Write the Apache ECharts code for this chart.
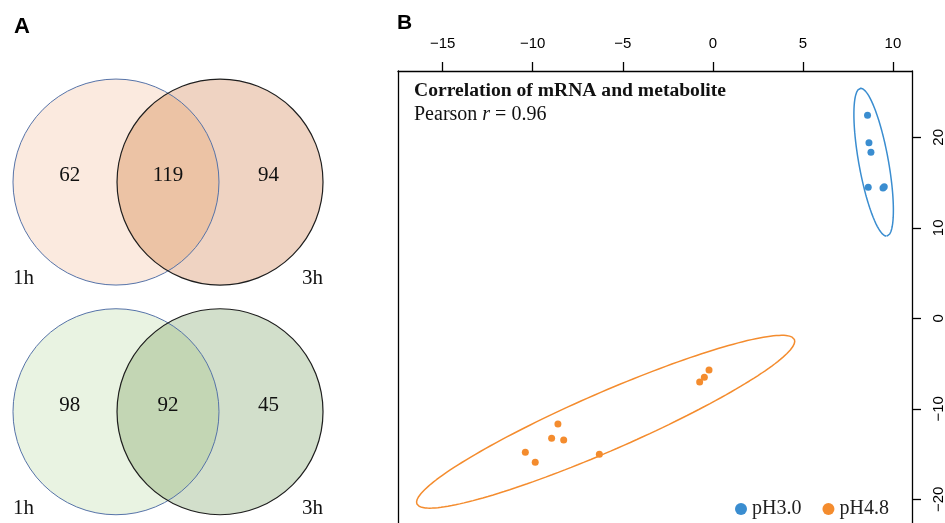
<!DOCTYPE html>
<html><head><meta charset="utf-8">
<script src="https://cdn.jsdelivr.net/npm/echarts@6/dist/echarts.min.js"></script>
<style>html,body{margin:0;padding:0;background:#fff}#c{width:945px;height:523px}</style>
</head><body><div id="c"></div>
<script>
// ---------- data ----------
const vennSetNames = ['1h', '3h'];
const vennCountsTop = [62, 119, 94];     // only 1h, shared, only 3h
const vennCountsBottom = [98, 92, 45];

const xTicks = [-15, -10, -5, 0, 5, 10];
const yTicks = [-20, -10, 0, 10, 20];

const groupNames = ['pH3.0', 'pH4.8'];
const pH30x = [8.59, 8.67, 8.78, 8.63, 9.45, 9.52];
const pH30y = [22.43, 19.40, 18.34, 14.48, 14.40, 14.54];
const pH48x = [-0.21, -0.47, -0.73, -8.60, -8.95, -8.28, -10.41, -9.86, -6.30];
const pH48y = [-5.71, -6.52, -7.04, -11.68, -13.26, -13.45, -14.81, -15.91, -15.03];

// confidence ellipses (data units): centre, semi-axis vectors
const ellipse30Center = [8.93, 17.25];
const ellipse30U = [0.741, -8.17];
const ellipse30V = [0.808, 0.29];
const ellipse48Center = [-5.95, -11.43];
const ellipse48U = [10.48, 9.09];
const ellipse48V = [0.641, -2.93];

// ---------- styles ----------
const BLUE = '#3a8dd0', ORANGE = '#f48c2e';
const SANS = 'Liberation Sans, Arial, sans-serif';
const SERIF = 'Liberation Serif, Times New Roman, serif';
const vennStyles = [
  {left: '#fbeadf', right: '#efd3c2', mid: '#ecc3a5'},
  {left: '#e9f3e2', right: '#d2dfcb', mid: '#c3d6b4'}
];
const vennRowY = [1.115, -1.115];
const vennHalfGap = 0.505;

function ellipsePoints(c, u, v) {
  const pts = [];
  const n = 180;
  for (let i = 0; i <= n; i++) {
    const t = 2 * Math.PI * i / n;
    pts.push([c[0] + u[0] * Math.cos(t) + v[0] * Math.sin(t),
              c[1] + u[1] * Math.cos(t) + v[1] * Math.sin(t)]);
  }
  return pts;
}
const zip = (a, b) => a.map((x, i) => [x, b[i]]);
const minusFmt = v => (v < 0 ? '\u2212' + Math.abs(v) : String(v));

function renderVenn(params, api) {
  const i = params.dataIndex;
  const st = vennStyles[i];
  const cy = vennRowY[i];
  const counts = [api.value(0), api.value(1), api.value(2)];
  const cL = api.coord([-vennHalfGap, cy]);
  const cR = api.coord([vennHalfGap, cy]);
  const r = api.size([1, 0])[0];
  const unit = r;
  const d2 = (cR[0] - cL[0]) / 2;
  const a = Math.acos(d2 / r);
  const lens = [];
  const n = 60;
  for (let k = 0; k <= n; k++) {
    const t = -a + 2 * a * k / n;
    lens.push([cL[0] + r * Math.cos(t), cL[1] + r * Math.sin(t)]);
  }
  for (let k = 0; k <= n; k++) {
    const t = Math.PI - a + 2 * a * k / n;
    lens.push([cR[0] + r * Math.cos(t), cR[1] + r * Math.sin(t)]);
  }
  const numFont = '21px ' + SERIF;
  const ty = cL[1] - 0.06 * unit;
  const txt = (s, x, y, align) => ({
    type: 'text', x: x, y: y,
    style: {text: String(s), font: numFont, fill: '#111', align: align, textAlign: align,
            verticalAlign: 'middle', textVerticalAlign: 'middle'}
  });
  return {
    type: 'group',
    children: [
      {type: 'circle', shape: {cx: cL[0], cy: cL[1], r: r}, style: {fill: st.left, stroke: null}},
      {type: 'circle', shape: {cx: cR[0], cy: cR[1], r: r}, style: {fill: st.right, stroke: null}},
      {type: 'polygon', shape: {points: lens}, style: {fill: st.mid, stroke: null}},
      {type: 'circle', shape: {cx: cL[0], cy: cL[1], r: r}, style: {fill: 'none', stroke: '#5673a8', lineWidth: 1}},
      {type: 'circle', shape: {cx: cR[0], cy: cR[1], r: r}, style: {fill: 'none', stroke: '#1e1e1e', lineWidth: 1.2}},
      txt(counts[0], cL[0] - 0.45 * unit, ty, 'center'),
      txt(counts[1], (cL[0] + cR[0]) / 2, ty, 'center'),
      txt(counts[2], cR[0] + 0.47 * unit, ty, 'center'),
      txt(vennSetNames[0], cL[0] - r, cL[1] + 0.935 * unit, 'left'),
      txt(vennSetNames[1], cR[0] + r, cR[1] + 0.935 * unit, 'right')
    ]
  };
}

const chart = echarts.init(document.getElementById('c'), null, {renderer: 'canvas'});
chart.setOption({
  animation: false,
  backgroundColor: '#fff',
  title: [
    {text: 'A', left: 14, top: 16, padding: 0,
     textStyle: {fontFamily: SANS, fontWeight: 'bold', fontSize: 22, color: '#000'}},
    {text: 'B', left: 397, top: 13, padding: 0,
     textStyle: {fontFamily: SANS, fontWeight: 'bold', fontSize: 21, color: '#000'}},
    {text: 'Correlation of mRNA and metabolite', left: 414, top: 81, padding: 0,
     textStyle: {fontFamily: SERIF, fontWeight: 'bold', fontSize: 19.6, color: '#111'}},
    {text: '{a|Pearson }{i|r}{a| = 0.96}', left: 414, top: 105, padding: 0,
     textStyle: {fontWeight: 'normal', rich: {
       a: {fontFamily: SERIF, fontSize: 20, fontWeight: 'normal', color: '#111'},
       i: {fontFamily: SERIF, fontSize: 20, fontWeight: 'normal', fontStyle: 'italic', color: '#111'}
     }}}
  ],
  legend: {
    data: groupNames, left: 735, top: 499, padding: 0,
    icon: 'circle', itemWidth: 12, itemHeight: 12, itemGap: 21,
    textStyle: {fontFamily: SERIF, fontSize: 20, color: '#222'}
  },
  grid: [
    {left: 398, top: 71, right: 33, bottom: 0, outerBoundsMode: 'none'},
    {left: 3.2, top: 60, width: 329.6, height: 463.5, outerBoundsMode: 'none'}
  ],
  xAxis: [
    {type: 'value', gridIndex: 0, position: 'top', min: -17.48, max: 11.06,
     axisLine: {show: true, onZero: false, lineStyle: {color: '#000', width: 1.3}},
     axisTick: {show: true, length: 9, inside: false, customValues: xTicks, lineStyle: {color: '#000', width: 1.3}},
     axisLabel: {customValues: xTicks, formatter: minusFmt, margin: 20,
                 fontFamily: SANS, fontSize: 15, color: '#000'},
     splitLine: {show: false}},
    {type: 'value', gridIndex: 1, min: -1.6, max: 1.6, show: false}
  ],
  yAxis: [
    {type: 'value', gridIndex: 0, position: 'right', min: -22.62, max: 27.33,
     axisLine: {show: true, onZero: false, lineStyle: {color: '#000', width: 1.3}},
     axisTick: {show: true, length: 9, inside: false, customValues: yTicks, lineStyle: {color: '#000', width: 1.3}},
     axisLabel: {customValues: yTicks, formatter: minusFmt, rotate: 90, margin: 19,
                 fontFamily: SANS, fontSize: 15, color: '#000'},
     splitLine: {show: false}},
    {type: 'value', gridIndex: 0, position: 'left', min: -22.62, max: 27.33,
     axisLine: {show: true, onZero: false, lineStyle: {color: '#000', width: 1.3}},
     axisTick: {show: false}, axisLabel: {show: false}, splitLine: {show: false}},
    {type: 'value', gridIndex: 1, min: -2.2, max: 2.3, show: false}
  ],
  series: [
    {type: 'custom', xAxisIndex: 1, yAxisIndex: 2, renderItem: renderVenn, silent: true,
     data: [vennCountsTop, vennCountsBottom]},
    {type: 'line', name: 'ellipse ' + groupNames[0], xAxisIndex: 0, yAxisIndex: 0,
     data: ellipsePoints(ellipse30Center, ellipse30U, ellipse30V),
     showSymbol: false, symbol: 'none', lineStyle: {color: BLUE, width: 1.5}, itemStyle: {color: BLUE}, silent: true},
    {type: 'line', name: 'ellipse ' + groupNames[1], xAxisIndex: 0, yAxisIndex: 0,
     data: ellipsePoints(ellipse48Center, ellipse48U, ellipse48V),
     showSymbol: false, symbol: 'none', lineStyle: {color: ORANGE, width: 1.5}, itemStyle: {color: ORANGE}, silent: true},
    {type: 'scatter', name: groupNames[0], xAxisIndex: 0, yAxisIndex: 0,
     data: zip(pH30x, pH30y), symbolSize: 7, itemStyle: {color: BLUE, opacity: 1}},
    {type: 'scatter', name: groupNames[1], xAxisIndex: 0, yAxisIndex: 0,
     data: zip(pH48x, pH48y), symbolSize: 7, itemStyle: {color: ORANGE, opacity: 1}}
  ]
});
</script></body></html>
